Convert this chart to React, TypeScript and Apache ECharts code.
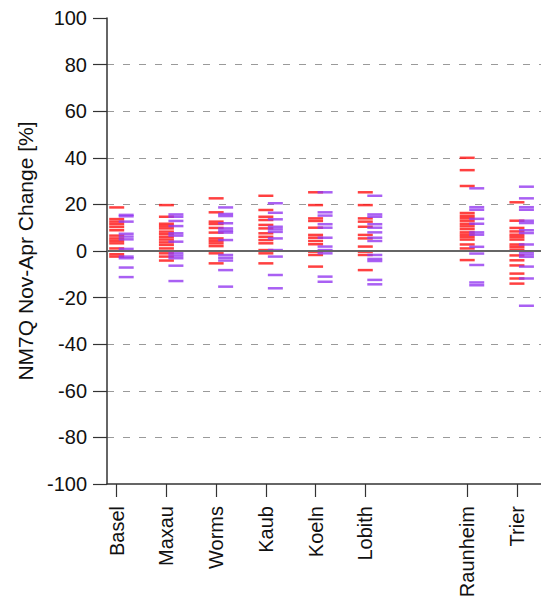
import React, { useEffect, useRef } from "react";
import * as echarts from "echarts";

const stations = ["Basel", "Maxau", "Worms", "Kaub", "Koeln", "Lobith", "Raunheim", "Trier"];
const stationPos = [1, 2, 3, 4, 5, 6, 8.05, 9.05];
const yTicks = [-100, -80, -60, -40, -20, 0, 20, 40, 60, 80, 100];

// Red dashes (first scenario group), per station
const redValues: number[][] = [
  [18.7, 13.7, 12.6, 11.5, 10.3, 8.9, 6.6, 5.4, 4.4, 3.3, 1.1, -1.4, -2.4],
  [19.7, 14.7, 11.7, 10.7, 9.7, 8.3, 7.2, 6.0, 4.9, 3.7, 2.6, 1.1, -1.0, -2.4, -4.1],
  [22.6, 16.6, 12.6, 11.6, 9.9, 7.9, 5.4, 4.4, 3.3, 2.1, -1.0, -5.3],
  [23.7, 17.6, 14.7, 13.3, 11.2, 9.7, 7.6, 6.1, 4.7, 3.3, 0.4, -1.0, -5.3],
  [25.2, 19.7, 14.0, 12.9, 10.0, 6.9, 5.7, 4.3, 2.9, -0.3, -1.7, -6.7],
  [25.2, 19.7, 14.0, 12.6, 10.4, 6.9, 5.4, 1.9, -0.3, -1.7, -8.2],
  [40.0, 34.7, 27.9, 16.3, 15.1, 14.1, 13.0, 11.7, 10.6, 9.4, 8.0, 7.0, 6.0, 4.9, 2.8, 1.1, -3.9],
  [20.9, 13.0, 9.9, 8.4, 7.0, 6.0, 4.9, 2.8, 1.8, 0.6, -1.9, -4.0, -6.2, -9.7, -11.8, -14.0],
];

// Purple dashes (second scenario group), per station
const purpleValues: number[][] = [
  [15.5, 14.9, 12.6, 7.4, 6.2, 5.0, 0.9, -2.4, -3.1, -7.1, -11.2],
  [15.7, 14.7, 12.9, 10.7, 7.6, 6.6, 4.0, -1.0, -2.0, -3.1, -6.3, -12.9],
  [18.7, 15.9, 15.0, 11.9, 9.7, 8.7, 7.9, 4.7, -1.7, -2.9, -4.1, -8.2, -15.3],
  [20.5, 16.4, 13.6, 10.4, 9.3, 8.2, 5.4, 0.4, -2.4, -10.3, -16.0],
  [25.2, 16.6, 15.2, 11.5, 10.0, 5.7, 1.9, 0.4, -1.0, -11.0, -13.2],
  [23.7, 15.7, 14.7, 11.5, 10.0, 8.0, 5.7, 4.3, -1.7, -3.4, -4.3, -12.4, -14.3],
  [26.9, 18.8, 17.7, 13.8, 11.7, 8.0, 7.0, 1.8, -1.1, -6.0, -13.5, -14.7],
  [27.6, 22.6, 18.8, 17.7, 13.0, 12.0, 8.9, 7.7, 2.8, -0.5, -1.5, -2.5, -6.7, -11.8, -23.5],
];

const FONT = "'Liberation Sans', Arial, Helvetica, sans-serif";

export default function App() {
  const ref = useRef<HTMLDivElement>(null);

  useEffect(() => {
    if (!ref.current) return;
    const chart = echarts.init(ref.current, null, { renderer: "svg" });

    const redData: number[][] = [];
    const purpleData: number[][] = [];
    stationPos.forEach((p, i) => {
      redValues[i].forEach((v) => redData.push([p, v]));
      purpleValues[i].forEach((v) => purpleData.push([p, v]));
    });

    const splitColors = yTicks.map((t) =>
      t === -100 || t === 100 || t === 0 ? "rgba(0,0,0,0)" : "#9a9a9a"
    );

    chart.setOption({
      animation: false,
      backgroundColor: "#ffffff",
      grid: { left: 107, top: 18, right: 0, bottom: 117, containLabel: false },
      xAxis: {
        type: "value",
        min: 0.805,
        max: 9.534,
        axisLine: { show: true, onZero: false, lineStyle: { color: "#333", width: 1.5 } },
        axisTick: {
          show: true,
          length: 13,
          customValues: stationPos,
          lineStyle: { color: "#333", width: 1.2 },
        },
        axisLabel: {
          show: true,
          customValues: stationPos,
          rotate: 90,
          margin: 22,
          fontSize: 20,
          fontFamily: FONT,
          color: "#111",
          formatter: (v: number) => {
            const idx = stationPos.findIndex((p) => Math.abs(p - v) < 1e-6);
            return idx >= 0 ? stations[idx] : "";
          },
        },
        splitLine: { show: false },
      },
      yAxis: {
        type: "value",
        min: -100,
        max: 100,
        interval: 20,
        name: "NM7Q Nov-Apr Change [%]",
        nameLocation: "middle",
        nameGap: 66,
        nameTextStyle: { fontSize: 21, fontFamily: FONT, color: "#111" },
        axisLine: { show: true, onZero: false, lineStyle: { color: "#333", width: 1.5 } },
        axisTick: { show: true, length: 14, lineStyle: { color: "#333", width: 1.2 } },
        axisLabel: { fontSize: 20, fontFamily: FONT, color: "#111", margin: 20 },
        splitLine: {
          show: true,
          lineStyle: { color: splitColors, type: [7, 9], width: 1.2 },
        },
      },
      series: [
        {
          type: "scatter",
          name: "red",
          symbol: "rect",
          symbolSize: [15, 2.5],
          itemStyle: { color: "#ff1010" },
          data: redData,
          z: 3,
          markLine: {
            silent: true,
            symbol: "none",
            label: { show: false },
            lineStyle: { color: "#666", width: 2, type: "solid" },
            data: [{ yAxis: 0 }],
          },
        },
        {
          type: "scatter",
          name: "purple",
          symbol: "rect",
          symbolSize: [15, 2.5],
          symbolOffset: [9.5, 0],
          itemStyle: { color: "#9438f0" },
          data: purpleData,
          z: 4,
        },
      ],
    });

    return () => chart.dispose();
  }, []);

  return <div ref={ref} style={{ width: 541, height: 601, position: "absolute", left: 0, top: 0 }} />;
}
